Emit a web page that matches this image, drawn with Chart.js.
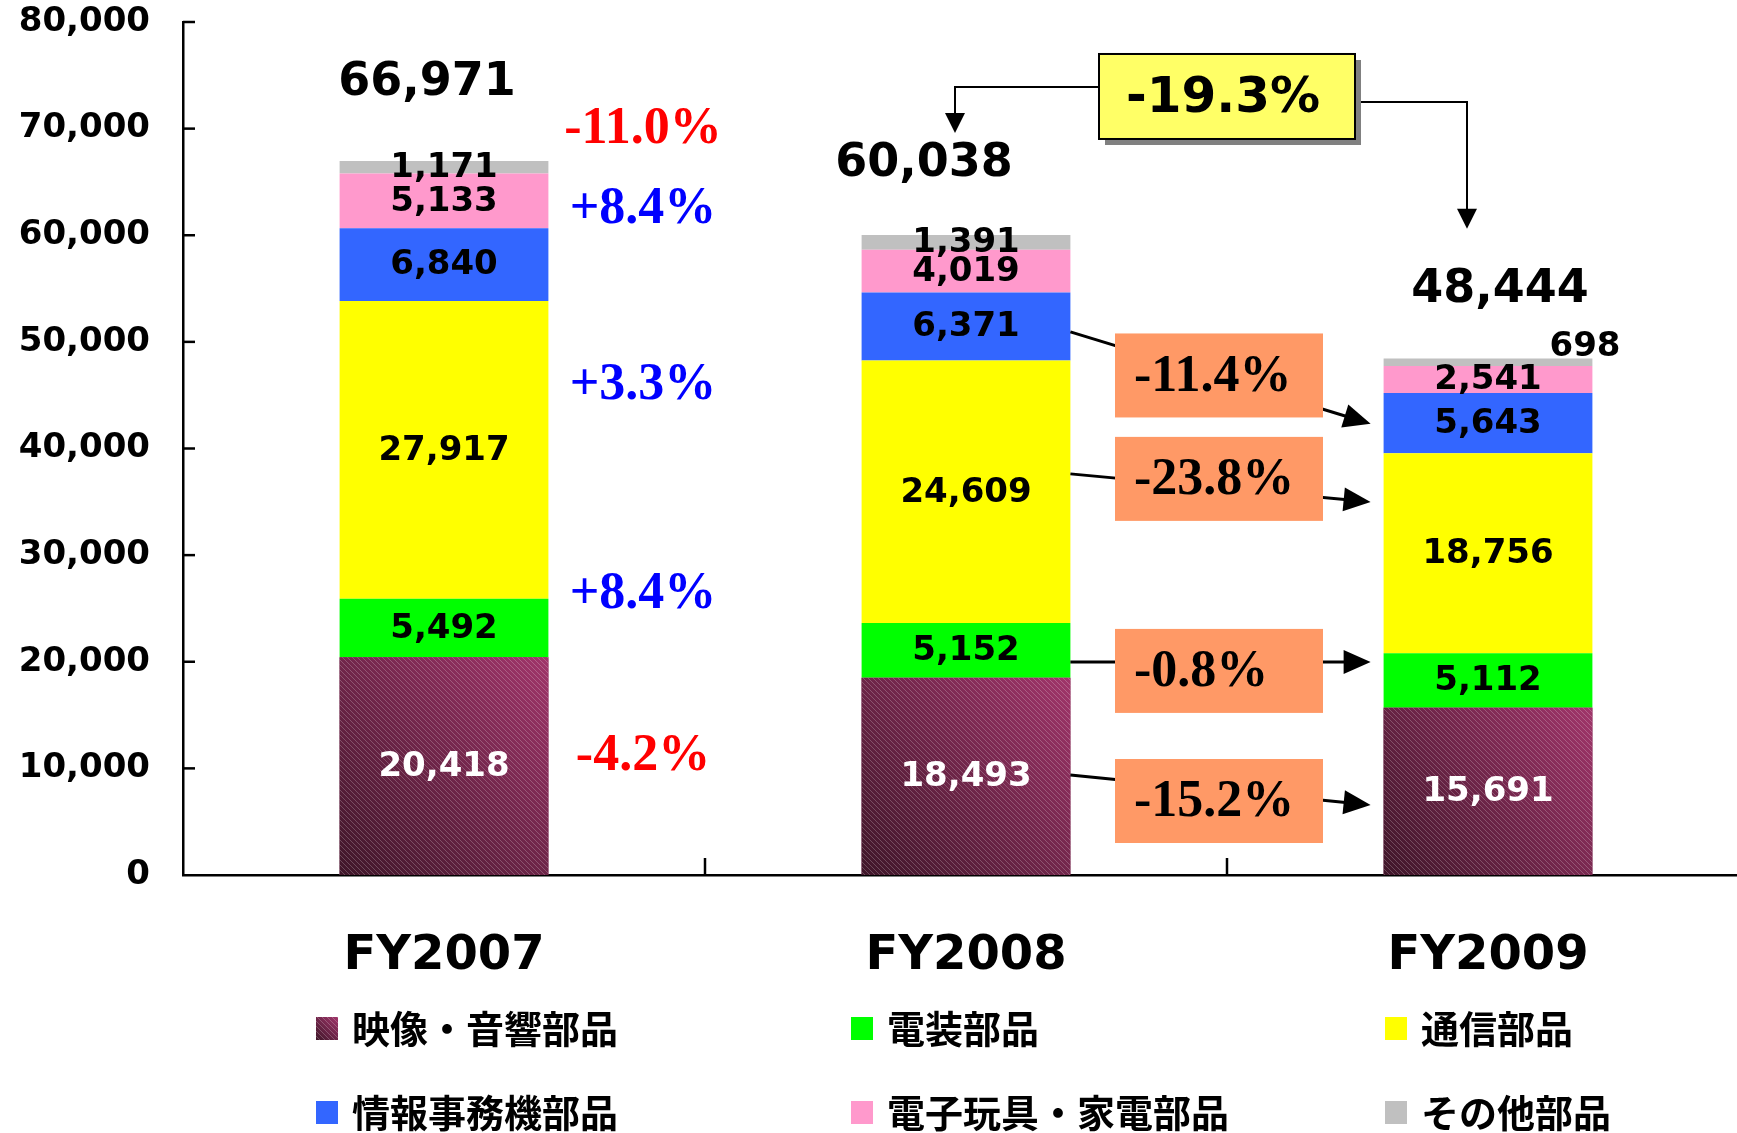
<!DOCTYPE html>
<html lang="ja">
<head>
  <meta charset="UTF-8">
  <title>部品別売上高</title>
  <script src="https://cdn.jsdelivr.net/npm/chart.js"></script>
  <style>
    html, body {
      margin: 0;
      padding: 0;
      background: #fff;
      overflow: hidden;
    }
  </style>
</head>
<body>
  <canvas id="salesChart" width="1760" height="1133"></canvas>

  <script>
    // データ（百万円）
    const years = ['FY2007', 'FY2008', 'FY2009'];
    const avParts = [20418, 18493, 15691];
    const electricParts = [5492, 5152, 5112];
    const commParts = [27917, 24609, 18756];
    const officeParts = [6840, 6371, 5643];
    const toyParts = [5133, 4019, 2541];
    const otherParts = [1171, 1391, 698];
    const totals = [66971, 60038, 48444];
    const seriesNames = ['映像・音響部品', '電装部品', '通信部品', '情報事務機部品', '電子玩具・家電部品', 'その他部品'];

    // 増減率
    const fy07Changes = ['-11.0%', '+8.4%', '+3.3%', '+8.4%', '-4.2%'];
    const fy09Changes = ['-11.4%', '-23.8%', '-0.8%', '-15.2%'];
    const totalChange = '-19.3%';

    // 配置（y は目盛りの値）
    const totalOffsets = [[-17, -78], [-42, -71], [12, -68]];
    const fy07ChangeY = [69900, 62380, 45870, 26270, 11070];
    const arrowY = [[50940, 42310], [37620, 34990], [19980, 19980], [9380, 6570]];
    const boxY = [46850, 37150, 19140, 6940];
    const legendCols = [316, 851, 1385];
    const legendRows = [1028, 1112];

    const NUM_FONT = '"DejaVu Sans", sans-serif';
    const SERIF = '"Liberation Serif", "Times New Roman", serif';

    // 斜線パターン
    const hatchTile = document.createElement('canvas');
    hatchTile.width = 5;
    hatchTile.height = 5;
    (function () {
      const g = hatchTile.getContext('2d');
      g.strokeStyle = 'rgba(255,255,255,0.22)';
      g.lineWidth = 1;
      g.beginPath();
      g.moveTo(-1, -1);
      g.lineTo(6, 6);
      g.stroke();
    })();

    function fillMaroon(ctx, x, y, w, h) {
      const g = ctx.createLinearGradient(x, y + h, x + w, y);
      g.addColorStop(0, '#3f1629');
      g.addColorStop(1, '#a0356a');
      ctx.fillStyle = g;
      ctx.fillRect(x, y, w, h);
      ctx.fillStyle = ctx.createPattern(hatchTile, 'repeat');
      ctx.fillRect(x, y, w, h);
    }

    function arrowHead(ctx, x1, y1, x2, y2, len, half) {
      const a = Math.atan2(y2 - y1, x2 - x1);
      const bx = x2 - len * Math.cos(a);
      const by = y2 - len * Math.sin(a);
      ctx.beginPath();
      ctx.moveTo(x2, y2);
      ctx.lineTo(bx + half * Math.sin(a), by - half * Math.cos(a));
      ctx.lineTo(bx - half * Math.sin(a), by + half * Math.cos(a));
      ctx.closePath();
      ctx.fill();
    }

    const decoPlugin = {
      id: 'deco',
      afterDatasetsDraw(chart) {
        const ctx = chart.ctx;
        ctx.save();
        // 映像・音響部品のグラデーション
        chart.getDatasetMeta(0).data.forEach(bar => {
          fillMaroon(ctx, bar.x - bar.width / 2, bar.y, bar.width, bar.base - bar.y);
        });

        // 各セグメントの値
        ctx.font = 'bold 34px ' + NUM_FONT;
        ctx.textAlign = 'center';
        ctx.textBaseline = 'middle';
        chart.data.datasets.forEach((ds, i) => {
          chart.getDatasetMeta(i).data.forEach((bar, j) => {
            const text = ds.data[j].toLocaleString('en-US');
            const h = bar.base - bar.y;
            ctx.fillStyle = i === 0 ? '#fff' : '#000';
            if (h < 10) {
              ctx.fillText(text, bar.x + 97, bar.y - 11);
            } else {
              ctx.fillText(text, bar.x, (bar.y + bar.base) / 2 + 1);
            }
          });
        });
        ctx.restore();
      },
      afterDraw(chart) {
        const ctx = chart.ctx;
        const xs = chart.scales.x;
        const ys = chart.scales.y;
        const area = chart.chartArea;
        ctx.save();

        // 目盛り（内向き）
        ctx.strokeStyle = '#000';
        ctx.lineWidth = 2.5;
        ys.ticks.forEach(t => {
          if (t.value === 0) return;
          const py = ys.getPixelForValue(t.value);
          ctx.beginPath();
          ctx.moveTo(area.left, py);
          ctx.lineTo(area.left + 12, py);
          ctx.stroke();
        });
        for (let i = 0; i < years.length - 1; i++) {
          const px = (xs.getPixelForValue(i) + xs.getPixelForValue(i + 1)) / 2;
          ctx.beginPath();
          ctx.moveTo(px, area.bottom);
          ctx.lineTo(px, area.bottom - 17);
          ctx.stroke();
        }

        // 合計
        const topMeta = chart.getDatasetMeta(chart.data.datasets.length - 1);
        ctx.font = 'bold 46px ' + NUM_FONT;
        ctx.fillStyle = '#000';
        ctx.textAlign = 'center';
        ctx.textBaseline = 'middle';
        topMeta.data.forEach((bar, j) => {
          ctx.fillText(totals[j].toLocaleString('en-US'), bar.x + totalOffsets[j][0], bar.y + totalOffsets[j][1]);
        });

        // FY2007 横の増減率
        const bar07 = chart.getDatasetMeta(0).data[0];
        ctx.font = 'bold 52px ' + SERIF;
        fy07Changes.forEach((t, k) => {
          ctx.fillStyle = t.charAt(0) === '-' ? '#ff0000' : '#0000ff';
          ctx.fillText(t, bar07.x + 199, ys.getPixelForValue(fy07ChangeY[k]));
        });

        // FY2008 → FY2009 の矢印と増減率
        const bar08 = chart.getDatasetMeta(0).data[1];
        const bar09 = chart.getDatasetMeta(0).data[2];
        const x1 = bar08.x + bar08.width / 2;
        const x2 = bar09.x - bar09.width / 2 - 13;
        const mid = (xs.getPixelForValue(1) + xs.getPixelForValue(2)) / 2;
        fy09Changes.forEach((t, k) => {
          const y1 = ys.getPixelForValue(arrowY[k][0]);
          const y2 = ys.getPixelForValue(arrowY[k][1]);
          ctx.strokeStyle = '#000';
          ctx.lineWidth = 3;
          ctx.beginPath();
          ctx.moveTo(x1, y1);
          ctx.lineTo(x2 - 10, y2 - (y2 - y1) * 10 / (x2 - x1));
          ctx.stroke();
          ctx.fillStyle = '#000';
          arrowHead(ctx, x1, y1, x2, y2, 27, 12);

          const by = ys.getPixelForValue(boxY[k]);
          ctx.fillStyle = '#ff9966';
          ctx.fillRect(mid - 112, by - 42, 208, 84);
          ctx.fillStyle = '#000';
          ctx.textAlign = 'left';
          ctx.font = 'bold 52px ' + SERIF;
          ctx.fillText(t, mid - 93, by + 2);
        });

        // 合計の増減率
        const cTop = ys.getPixelForValue(77000);
        const cx = mid;
        ctx.lineWidth = 2;
        ctx.strokeStyle = '#000';
        const ly = ys.getPixelForValue(73900);
        const lx = bar08.x - 11;
        const lTip = ys.getPixelForValue(69600);
        ctx.beginPath();
        ctx.moveTo(cx - 128, ly);
        ctx.lineTo(lx, ly);
        ctx.lineTo(lx, lTip - 18);
        ctx.stroke();
        ctx.fillStyle = '#000';
        arrowHead(ctx, lx, ly, lx, lTip, 20, 10);

        const ry = ys.getPixelForValue(72500);
        const rx = bar09.x - 21;
        const rTip = ys.getPixelForValue(60600);
        ctx.beginPath();
        ctx.moveTo(cx + 128, ry);
        ctx.lineTo(rx, ry);
        ctx.lineTo(rx, rTip - 18);
        ctx.stroke();
        arrowHead(ctx, rx, ry, rx, rTip, 20, 10);

        ctx.fillStyle = '#808080';
        ctx.fillRect(cx - 128 + 6, cTop + 6, 256, 85);
        ctx.fillStyle = '#ffff66';
        ctx.fillRect(cx - 128, cTop, 256, 85);
        ctx.strokeRect(cx - 128, cTop, 256, 85);
        ctx.fillStyle = '#000';
        ctx.textAlign = 'center';
        ctx.font = 'bold 50px ' + NUM_FONT;
        ctx.fillText(totalChange, cx - 4, cTop + 45);

        // 凡例
        ctx.font = 'bold 38px "Noto Sans CJK JP", sans-serif';
        ctx.textAlign = 'left';
        chart.data.datasets.forEach((ds, i) => {
          const lx0 = legendCols[i % 3];
          const ly0 = legendRows[Math.floor(i / 3)];
          if (i === 0) {
            fillMaroon(ctx, lx0, ly0 - 11, 22, 23);
          } else {
            ctx.fillStyle = ds.backgroundColor;
            ctx.fillRect(lx0, ly0 - 11, 22, 23);
          }
          ctx.fillStyle = '#000';
          ctx.fillText(ds.label, lx0 + 36, ly0 + 1);
        });
        ctx.restore();
      }
    };

    const ctx = document.getElementById('salesChart').getContext('2d');
    const colors = ['#7a2a52', '#00ff00', '#ffff00', '#3366ff', '#ff99cc', '#c0c0c0'];
    const seriesData = [avParts, electricParts, commParts, officeParts, toyParts, otherParts];

    const salesChart = new Chart(ctx, {
      type: 'bar',
      data: {
        labels: years,
        datasets: seriesData.map((d, i) => ({
          label: seriesNames[i],
          data: d,
          backgroundColor: colors[i],
          borderWidth: 0,
          barPercentage: 0.4,
          categoryPercentage: 1.0
        }))
      },
      options: {
        responsive: false,
        animation: false,
        devicePixelRatio: 1,
        layout: { padding: { top: 22, right: 11, left: 0, bottom: 0 } },
        plugins: {
          legend: { display: false },
          tooltip: { enabled: false }
        },
        scales: {
          x: {
            stacked: true,
            grid: { display: false, drawTicks: false },
            border: { display: true, color: '#000', width: 2.5 },
            ticks: {
              color: '#000',
              padding: 53,
              font: { family: 'DejaVu Sans', weight: 'bold', size: 48 }
            },
            afterFit: function (scale) {
              scale.height = 258;
              scale.paddingLeft = 0;
              scale.paddingRight = 0;
            }
          },
          y: {
            stacked: true,
            min: 0,
            max: 80000,
            grid: { display: false, drawTicks: false },
            border: { display: true, color: '#000', width: 2.5 },
            ticks: {
              stepSize: 10000,
              color: '#000',
              padding: 33,
              font: { family: 'DejaVu Sans', weight: 'bold', size: 34 },
              callback: function (value) { return value.toLocaleString('en-US'); }
            },
            afterFit: function (scale) {
              scale.width = 183;
              scale.paddingTop = 0;
              scale.paddingBottom = 0;
            }
          }
        }
      },
      plugins: [decoPlugin]
    });
  </script>
</body>
</html>
